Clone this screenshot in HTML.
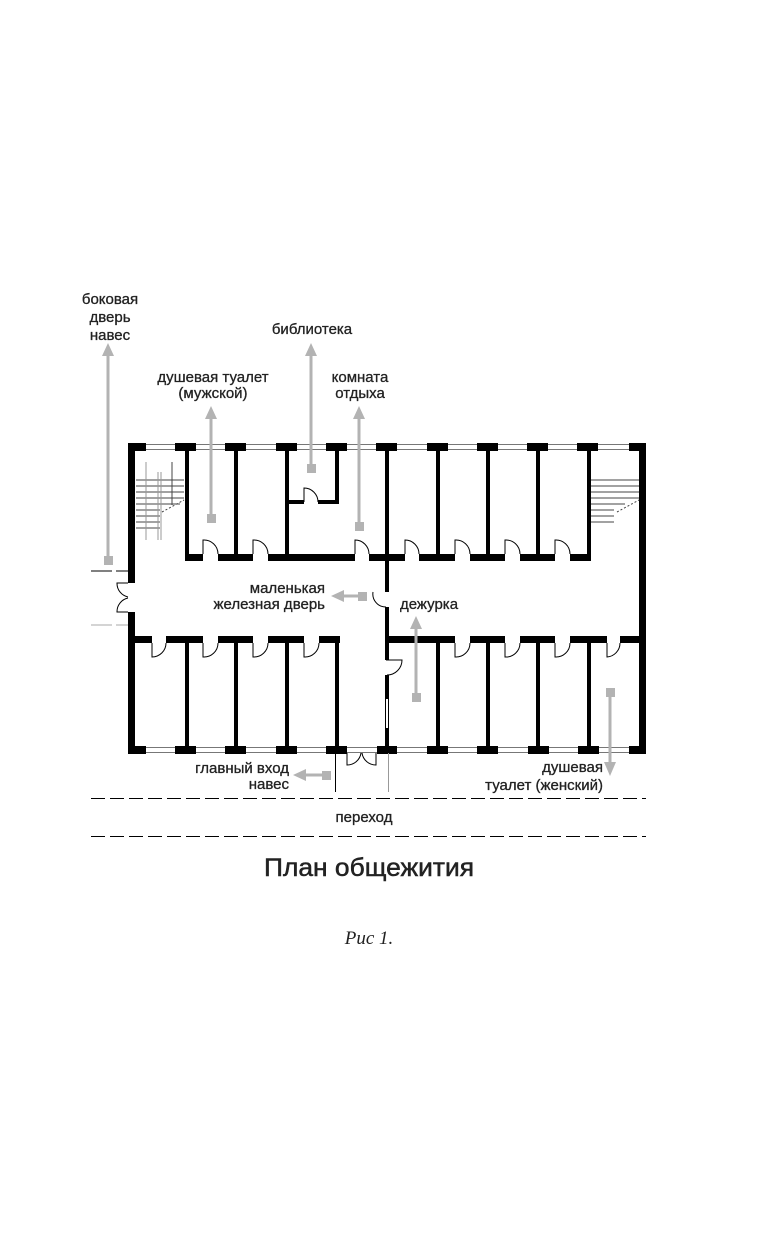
<!DOCTYPE html>
<html><head><meta charset="utf-8"><style>
html,body{margin:0;padding:0;background:#fff}
svg{display:block}
text{font-family:"Liberation Sans","DejaVu Sans",sans-serif;fill:#222}
</style></head><body>
<svg width="768" height="1240" viewBox="0 0 768 1240" xmlns="http://www.w3.org/2000/svg">
<g stroke="#777" stroke-width="1">
<line x1="128" y1="444.5" x2="646" y2="444.5"/><line x1="128" y1="449.5" x2="646" y2="449.5"/>
<line x1="128" y1="747.5" x2="646" y2="747.5"/><line x1="128" y1="752.5" x2="646" y2="752.5"/>
</g>
<g fill="#000">
<rect x="128" y="443" width="18" height="8"/><rect x="175" y="443" width="21" height="8"/><rect x="225" y="443" width="21" height="8"/><rect x="276" y="443" width="21" height="8"/><rect x="326" y="443" width="21" height="8"/><rect x="376" y="443" width="21" height="8"/><rect x="427" y="443" width="21" height="8"/><rect x="477" y="443" width="21" height="8"/><rect x="527" y="443" width="21" height="8"/><rect x="577" y="443" width="21" height="8"/><rect x="629" y="443" width="17" height="8"/>
<rect x="128" y="746" width="18" height="8"/><rect x="175" y="746" width="21" height="8"/><rect x="225" y="746" width="21" height="8"/><rect x="276" y="746" width="21" height="8"/><rect x="326" y="746" width="21" height="8"/><rect x="377" y="746" width="20" height="8"/><rect x="427" y="746" width="21" height="8"/><rect x="477" y="746" width="21" height="8"/><rect x="528" y="746" width="21" height="8"/><rect x="578" y="746" width="21" height="8"/><rect x="629" y="746" width="17" height="8"/>
<rect x="128" y="443" width="7" height="140"/><rect x="128" y="612" width="7" height="142"/>
<rect x="639" y="443" width="7" height="311"/>
<rect x="185" y="554" width="18" height="7"/><rect x="218" y="554" width="35" height="7"/><rect x="268" y="554" width="87" height="7"/><rect x="369" y="554" width="36" height="7"/><rect x="419" y="554" width="36" height="7"/><rect x="470" y="554" width="35" height="7"/><rect x="520" y="554" width="35" height="7"/><rect x="570" y="554" width="21" height="7"/>
<rect x="128" y="636" width="24" height="7"/><rect x="166" y="636" width="37" height="7"/><rect x="218" y="636" width="35" height="7"/><rect x="268" y="636" width="36" height="7"/><rect x="319" y="636" width="21" height="7"/>
<rect x="386" y="636" width="69" height="7"/><rect x="470" y="636" width="35" height="7"/><rect x="520" y="636" width="35" height="7"/><rect x="570" y="636" width="37" height="7"/><rect x="620" y="636" width="26" height="7"/>
<rect x="185" y="450" width="4" height="106"/><rect x="234" y="450" width="4" height="106"/><rect x="285" y="450" width="4" height="106"/><rect x="335" y="450" width="4" height="54"/>
<rect x="287" y="500" width="17" height="4"/><rect x="318" y="500" width="21" height="4"/>
<rect x="436" y="450" width="4" height="106"/><rect x="486" y="450" width="4" height="106"/><rect x="536" y="450" width="4" height="106"/><rect x="587" y="450" width="4" height="106"/>
<rect x="185" y="640" width="4" height="108"/><rect x="234" y="640" width="4" height="108"/><rect x="285" y="640" width="4" height="108"/><rect x="335" y="640" width="4" height="108"/>
<rect x="436" y="640" width="4" height="108"/><rect x="486" y="640" width="4" height="108"/><rect x="536" y="640" width="4" height="108"/><rect x="587" y="640" width="4" height="108"/>
<rect x="385" y="450" width="4" height="142"/><rect x="385" y="607" width="4" height="53"/><rect x="385" y="675" width="4" height="24"/><rect x="385" y="728" width="4" height="22"/>
</g>
<g fill="none" stroke="#000" stroke-width="1">
<line x1="385.5" y1="699" x2="385.5" y2="728"/><line x1="388.5" y1="699" x2="388.5" y2="728"/>
<path d="M203 554 V540 A14 14 0 0 1 218 554"/><path d="M253 554 V540 A14 14 0 0 1 268 554"/><path d="M355 554 V540 A14 14 0 0 1 369 554"/><path d="M405 554 V540 A14 14 0 0 1 419 554"/><path d="M455 554 V540 A14 14 0 0 1 470 554"/><path d="M505 554 V540 A14 14 0 0 1 520 554"/><path d="M555 554 V540 A14 14 0 0 1 570 554"/>
<path d="M304 502 V488 A14 14 0 0 1 318 502"/>
<path d="M152 643 V657 A14 14 0 0 0 166 643"/><path d="M203 643 V657 A14 14 0 0 0 218 643"/><path d="M253 643 V657 A14 14 0 0 0 268 643"/><path d="M304 643 V657 A14 14 0 0 0 319 643"/>
<path d="M455 643 V657 A14 14 0 0 0 470 643"/><path d="M505 643 V657 A14 14 0 0 0 520 643"/><path d="M555 643 V657 A14 14 0 0 0 570 643"/><path d="M607 643 V657 A14 14 0 0 0 620 643"/>
<path d="M373 592 A13 13 0 0 0 386 607"/>
<path d="M386 660 H402 A15 15 0 0 1 387 675"/>
<path d="M128 583 H117 A14 14 0 0 0 128 597"/><path d="M128 612 H117 A14 14 0 0 1 128 598"/>
<path d="M347 753 V765 A14 14 0 0 0 361 753"/><path d="M376 753 V765 A14 14 0 0 1 362 753"/>
<line x1="91" y1="571" x2="112" y2="571"/><line x1="116" y1="571" x2="128" y2="571"/>
<line x1="91" y1="625" x2="112" y2="625" stroke="#aaa"/><line x1="116" y1="625" x2="128" y2="625" stroke="#aaa"/>
<line x1="335.5" y1="753" x2="335.5" y2="792"/><line x1="388.5" y1="753" x2="388.5" y2="792" stroke="#999"/>
<line x1="91" y1="798.5" x2="646" y2="798.5" stroke-dasharray="14 5"/>
<line x1="91" y1="836.5" x2="646" y2="836.5" stroke-dasharray="14 5"/>
</g>
<g stroke="#444" stroke-width="1" fill="none">
<line x1="136" y1="480" x2="184" y2="480"/><line x1="136" y1="486" x2="184" y2="486"/><line x1="136" y1="492" x2="184" y2="492"/><line x1="136" y1="498" x2="184" y2="498"/><line x1="136" y1="504" x2="180" y2="504"/><line x1="136" y1="510" x2="160" y2="510"/><line x1="136" y1="516" x2="160" y2="516"/><line x1="136" y1="522" x2="160" y2="522"/><line x1="136" y1="528" x2="160" y2="528"/>
<line x1="146" y1="462" x2="146" y2="540" stroke="#999"/><line x1="158" y1="472" x2="158" y2="540" stroke="#999"/><line x1="161" y1="472" x2="161" y2="540" stroke="#999"/>
<line x1="172" y1="462" x2="172" y2="505"/><line x1="162" y1="512" x2="184" y2="500" stroke-dasharray="2 2"/>
<line x1="591" y1="480" x2="639" y2="480"/><line x1="591" y1="486" x2="639" y2="486"/><line x1="591" y1="492" x2="639" y2="492"/><line x1="591" y1="498" x2="639" y2="498"/><line x1="591" y1="504" x2="625" y2="504"/><line x1="591" y1="510" x2="614" y2="510"/><line x1="591" y1="516" x2="614" y2="516"/><line x1="591" y1="522" x2="614" y2="522"/>
<line x1="617" y1="512" x2="639" y2="500" stroke-dasharray="2 2"/>
</g>
<g fill="#b3b3b3" stroke="#b3b3b3">
<line x1="108" y1="560" x2="108" y2="355" stroke-width="3"/><rect x="104" y="556" width="9" height="9" stroke="none"/><path d="M102 356 L108 343 L114 356Z" stroke="none"/>
<line x1="211" y1="518" x2="211" y2="418" stroke-width="3"/><rect x="207" y="514" width="9" height="9" stroke="none"/><path d="M205 419 L211 406 L217 419Z" stroke="none"/>
<line x1="311" y1="468" x2="311" y2="355" stroke-width="3"/><rect x="307" y="464" width="9" height="9" stroke="none"/><path d="M305 356 L311 343 L317 356Z" stroke="none"/>
<line x1="359" y1="527" x2="359" y2="418" stroke-width="3"/><rect x="355" y="522" width="9" height="9" stroke="none"/><path d="M353 419 L359 406 L365 419Z" stroke="none"/>
<line x1="362" y1="596" x2="342" y2="596" stroke-width="3"/><rect x="358" y="592" width="9" height="9" stroke="none"/><path d="M344 590 L331 596 L344 602Z" stroke="none"/>
<line x1="416" y1="697" x2="416" y2="628" stroke-width="3"/><rect x="412" y="693" width="9" height="9" stroke="none"/><path d="M410 629 L416 616 L422 629Z" stroke="none"/>
<line x1="610" y1="692" x2="610" y2="763" stroke-width="3"/><rect x="606" y="688" width="9" height="9" stroke="none"/><path d="M604 762 L610 776 L616 762Z" stroke="none"/>
<line x1="327" y1="775" x2="305" y2="775" stroke-width="3"/><rect x="322" y="771" width="9" height="9" stroke="none"/><path d="M306 769 L293 775 L306 781Z" stroke="none"/>
</g>
<g font-size="15" stroke="#222" stroke-width="0.3">
<text x="110" y="304" text-anchor="middle">боковая</text>
<text x="110" y="322" text-anchor="middle">дверь</text>
<text x="110" y="340" text-anchor="middle">навес</text>
<text x="213" y="382" text-anchor="middle">душевая туалет</text>
<text x="213" y="398" text-anchor="middle">(мужской)</text>
<text x="312" y="334" text-anchor="middle">библиотека</text>
<text x="360" y="382" text-anchor="middle">комната</text>
<text x="360" y="398" text-anchor="middle">отдыха</text>
<text x="325" y="593" text-anchor="end">маленькая</text>
<text x="325" y="609" text-anchor="end">железная дверь</text>
<text x="400" y="609">дежурка</text>
<text x="289" y="773" text-anchor="end">главный вход</text>
<text x="289" y="789" text-anchor="end">навес</text>
<text x="603" y="772" text-anchor="end">душевая</text>
<text x="603" y="790" text-anchor="end">туалет (женский)</text>
<text x="364" y="822" text-anchor="middle">переход</text>
</g>
<text x="369" y="876" text-anchor="middle" font-size="25" stroke="#222" stroke-width="0.5" textLength="210" lengthAdjust="spacingAndGlyphs">План общежития</text>
<text x="369" y="944" text-anchor="middle" font-size="19" font-style="italic" style="font-family:'Liberation Serif',serif">Рис 1.</text>
</svg>
</body></html>
